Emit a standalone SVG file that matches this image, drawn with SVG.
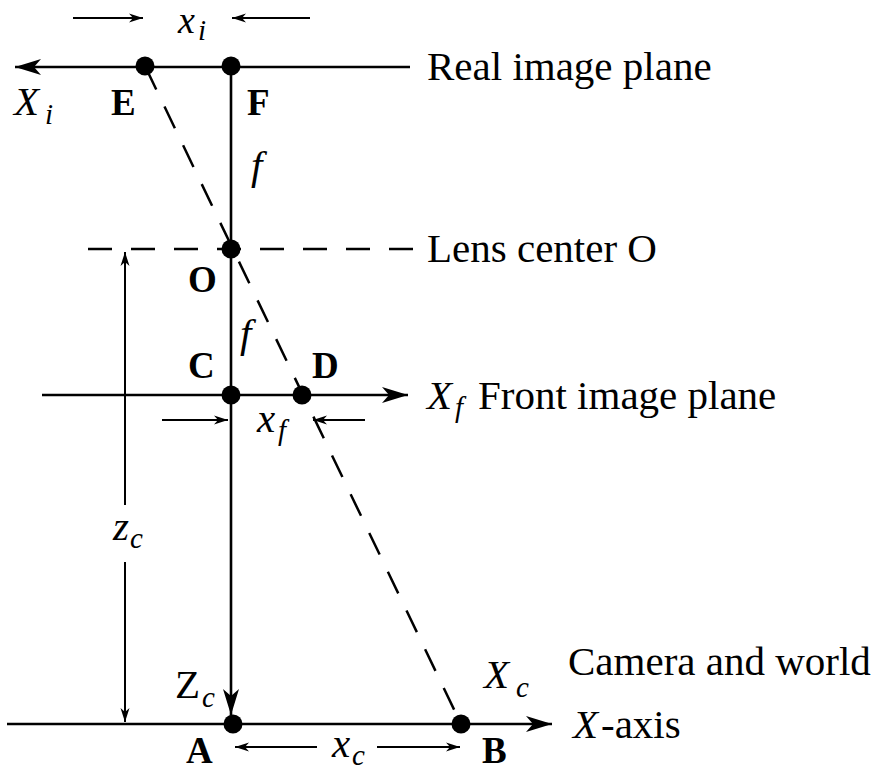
<svg xmlns="http://www.w3.org/2000/svg" width="881" height="771" viewBox="0 0 881 771">
<style>
.ax{stroke:#000;stroke-width:2.6;fill:none}
.dim{stroke:#000;stroke-width:2;fill:none}
.dash{stroke:#000;stroke-width:2.5;fill:none;stroke-dasharray:24 19}
.dot{fill:#000}
.t{font-family:"Liberation Serif","Times New Roman",serif;font-size:41px;fill:#000}
.b{font-family:"Liberation Serif","Times New Roman",serif;font-size:37px;font-weight:bold;fill:#000}
.i{font-family:"Liberation Serif","Times New Roman",serif;font-size:41px;font-style:italic;fill:#000}
.s{font-family:"Liberation Serif","Times New Roman",serif;font-size:29px;font-style:italic;fill:#000}
</style>
<defs>
<marker id="big" viewBox="-28 -10 30 20" markerWidth="30" markerHeight="20" refX="0" refY="0" orient="auto" markerUnits="userSpaceOnUse">
<path d="M0,0 L-26,-8 L-19,0 L-26,8 Z" fill="#000"/>
</marker>
<marker id="small" viewBox="-16 -6 18 12" markerWidth="18" markerHeight="12" refX="0" refY="0" orient="auto" markerUnits="userSpaceOnUse">
<path d="M0,0 L-14,-4.5 L-10,0 L-14,4.5 Z" fill="#000"/>
</marker>
</defs>
<rect width="881" height="771" fill="#fff"/>
<g id="connectors">
<line class="ax" x1="410" y1="67" x2="15" y2="67" marker-end="url(#big)"/>
<line class="ax" x1="231" y1="67" x2="231" y2="715" marker-end="url(#big)"/>
<line class="dash" x1="88" y1="249" x2="413" y2="249"/>
<line class="ax" x1="42" y1="395" x2="408" y2="395" marker-end="url(#big)"/>
<line class="ax" x1="7" y1="724" x2="552" y2="724" marker-end="url(#big)"/>
<line class="dash" x1="145" y1="66" x2="461" y2="724" stroke-dashoffset="-2"/>
<line class="dim" x1="125" y1="505" x2="125" y2="252" marker-end="url(#small)"/>
<line class="dim" x1="125" y1="562" x2="125" y2="722" marker-end="url(#small)"/>
<line class="dim" x1="73" y1="18" x2="143" y2="18" marker-end="url(#small)"/>
<line class="dim" x1="310" y1="18" x2="232" y2="18" marker-end="url(#small)"/>
<line class="dim" x1="162" y1="420" x2="228" y2="420" marker-end="url(#small)"/>
<line class="dim" x1="365" y1="420" x2="313" y2="420" marker-end="url(#small)"/>
<line class="dim" x1="317" y1="747" x2="235" y2="747" marker-end="url(#small)"/>
<line class="dim" x1="377" y1="747" x2="460" y2="747" marker-end="url(#small)"/>
</g>
<g id="node-E"><circle class="dot" cx="145" cy="66" r="9.5"/><text class="b" x="111" y="115">E</text></g>
<g id="node-F"><circle class="dot" cx="231" cy="66" r="9.5"/><text class="b" x="247" y="115">F</text></g>
<g id="node-O"><circle class="dot" cx="231" cy="249" r="9.5"/><text class="b" x="188" y="292">O</text></g>
<g id="node-C"><circle class="dot" cx="231" cy="395" r="9.5"/><text class="b" x="188" y="378">C</text></g>
<g id="node-D"><circle class="dot" cx="302" cy="395" r="9.5"/><text class="b" x="312" y="378">D</text></g>
<g id="node-A"><circle class="dot" cx="233" cy="724" r="9.5"/><text class="b" x="186" y="763">A</text></g>
<g id="node-B"><circle class="dot" cx="461" cy="724" r="9.5"/><text class="b" x="482" y="763">B</text></g>
<g id="labels">
<text class="t" x="427" y="80">Real image plane</text>
<text class="t" x="427" y="262">Lens center O</text>
<text class="i" x="427" y="409">X</text><text class="s" x="455" y="417">f</text>
<text class="t" x="478" y="409">Front image plane</text>
<text class="t" x="568" y="675">Camera and world</text>
<text class="i" x="573" y="738">X</text><text class="t" x="601" y="738">-axis</text>
<text class="i" x="14" y="115">X</text><text class="s" x="45" y="124">i</text>
<text class="i" x="178" y="33" style="font-size:38px">x</text><text class="s" x="198" y="40">i</text>
<text class="i" x="251" y="179">f</text>
<text class="i" x="240" y="347">f</text>
<text class="i" x="257" y="432">x</text><text class="s" x="278" y="440">f</text>
<text class="i" x="113" y="540">z</text><text class="s" x="130" y="548">c</text>
<text class="t" x="175" y="698">Z</text><text class="s" x="202" y="707">c</text>
<text class="i" x="484" y="688">X</text><text class="s" x="516" y="697">c</text>
<text class="i" x="332" y="757">x</text><text class="s" x="352" y="765">c</text>
</g>
</svg>
